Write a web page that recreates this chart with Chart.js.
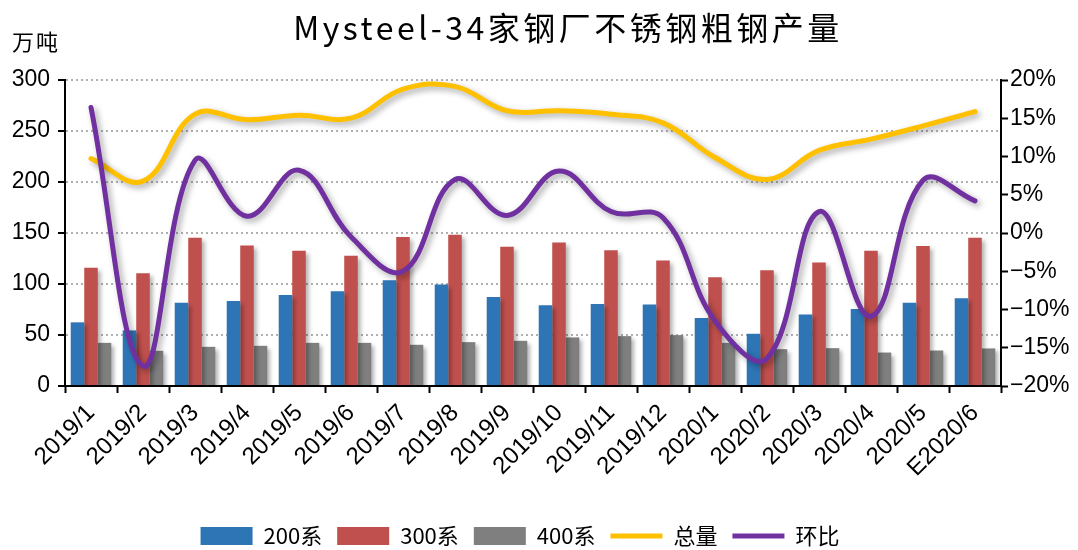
<!DOCTYPE html>
<html>
<head>
<meta charset="utf-8">
<script src="https://cdn.jsdelivr.net/npm/chart.js@4.4.0/dist/chart.umd.min.js"></script>
<style>
  html, body { margin: 0; padding: 0; background: #fff; }
  #wrap { width: 1078px; height: 550px; }
</style>
</head>
<body>
<div id="wrap"><canvas id="myChart" width="1078" height="550"></canvas></div>
<script>
const months = ['2019/1', '2019/2', '2019/3', '2019/4', '2019/5', '2019/6', '2019/7', '2019/8', '2019/9',
  '2019/10', '2019/11', '2019/12', '2020/1', '2020/2', '2020/3', '2020/4', '2020/5', 'E2020/6'];
const s200 = [62.4, 54.5, 81.7, 83.4, 89.3, 92.9, 103.7, 99.4, 87.3, 79.1, 80.4, 79.8, 66.6, 51.2, 70.2, 75.5, 81.7, 86.0];
const s300 = [116, 110.6, 145.4, 137.8, 132.6, 127.7, 146, 148.3, 136.5, 140.8, 133.2, 123, 106.7, 113.6, 121.1, 132.6, 137.2, 145.4];
const s400 = [42.3, 34.5, 38.4, 39.4, 42.3, 42.3, 40.4, 43, 44.3, 47.6, 48.9, 49.9, 42.3, 36.1, 37.1, 32.8, 34.8, 36.8];
const total = [223, 200.9, 266.5, 261, 265.5, 262.6, 291, 293.7, 269.8, 269.8, 266.5, 258, 224, 202.5, 231, 242, 255, 269];
const mom = [16.4, -17.4, 9.5, 2.2, 8.2, -0.5, -5.0, 7.0, 2.3, 8.1, 2.8, 2.0, -11.5, -16.4, 2.8, -10.9, 6.9, 4.2];

const titleText = 'Mysteel-34家钢厂不锈钢粗钢产量';
const unitText = '万吨';

// drop shadow under bars and lines
const shadow = {
  id: 'shadow',
  beforeDatasetDraw(chart, args) {
    const ctx = chart.ctx;
    ctx.save();
    const isLine = args.meta.type === 'line';
    ctx.shadowColor = isLine ? 'rgba(0,0,0,0.35)' : 'rgba(0,0,0,0.3)';
    ctx.shadowBlur = isLine ? 6 : 4;
    ctx.shadowOffsetX = 3;
    ctx.shadowOffsetY = 3;
  },
  afterDatasetDraw(chart) {
    chart.ctx.restore();
  }
};

// title and unit text, and nudge the legend a bit left
const headings = {
  id: 'headings',
  afterLayout(chart) {
    chart.legend.left -= 13;
    chart.legend.right -= 13;
  },
  afterDraw(chart) {
    const {ctx} = chart;
    ctx.save();
    ctx.fillStyle = '#000';
    ctx.textBaseline = 'middle';
    ctx.textAlign = 'center';
    ctx.font = '32px "Noto Sans CJK SC"';
    ctx.letterSpacing = '3.5px';
    ctx.fillText(titleText, 568, 28);
    ctx.letterSpacing = '2px';
    ctx.textAlign = 'left';
    ctx.font = '22px "Noto Sans CJK SC"';
    ctx.fillText(unitText, 12, 42);
    ctx.restore();
  }
};

const data = {
  labels: months,
  datasets: [
    { type: 'bar', label: '200系', data: s200, backgroundColor: '#2E75B6', order: 3, pointStyle: 'rect', yAxisID: 'y' },
    { type: 'bar', label: '300系', data: s300, backgroundColor: '#C0504D', order: 3, pointStyle: 'rect', yAxisID: 'y' },
    { type: 'bar', label: '400系', data: s400, backgroundColor: '#7F7F7F', order: 3, pointStyle: 'rect', yAxisID: 'y' },
    { type: 'line', label: '总量', data: total, borderColor: '#FFC000', backgroundColor: '#FFC000', borderWidth: 5,
      tension: 0.4, pointRadius: 0, order: 2, pointStyle: 'line', yAxisID: 'y', borderCapStyle: 'round' },
    { type: 'line', label: '环比', data: mom, borderColor: '#7030A0', backgroundColor: '#7030A0', borderWidth: 5,
      tension: 0.4, pointRadius: 0, order: 1, pointStyle: 'line', yAxisID: 'y1', borderCapStyle: 'round' }
  ]
};

const config = {
  type: 'bar',
  data,
  options: {
    responsive: false,
    animation: false,
    layout: { padding: { top: 80, bottom: -7, left: 0, right: 0 } },
    datasets: {
      bar: { categoryPercentage: 0.78, barPercentage: 1.0 }
    },
    plugins: {
      title: { display: false },
      tooltip: { enabled: false },
      legend: {
        position: 'bottom',
        fullSize: false,
        labels: {
          usePointStyle: true,
          pointStyleWidth: 52,
          boxHeight: 18,
          padding: 15,
          color: '#000',
          font: { family: '"Noto Sans CJK SC"', size: 22 },
          sort: (a, b) => a.datasetIndex - b.datasetIndex
        }
      }
    },
    scales: {
      x: {
        grid: { display: true, offset: true, drawOnChartArea: false, tickLength: 7, tickColor: '#000', tickWidth: 2 },
        border: { color: '#000', width: 2 },
        ticks: {
          color: '#000', minRotation: 45, maxRotation: 45, autoSkip: false, padding: 6,
          font: { family: '"Liberation Sans"', size: 24 }
        },
        afterFit(scale) { scale.height = 124; }
      },
      y: {
        position: 'left',
        min: 0, max: 300,
        ticks: { stepSize: 50, color: '#000', padding: 8, font: { family: '"Liberation Sans"', size: 23 } },
        grid: {
          color: ctx => ctx.tick && ctx.tick.value === 0 ? 'rgba(0,0,0,0)' : '#B0B0B0',
          lineWidth: 2, tickLength: 7, tickColor: '#000', tickWidth: 2
        },
        border: { color: '#000', width: 2, dash: [2, 3] },
        afterFit(scale) { scale.width = 65; }
      },
      y1: {
        position: 'right',
        min: -20, max: 20,
        ticks: {
          stepSize: 5, color: '#000', padding: 2, font: { family: '"Liberation Sans"', size: 23 },
          callback: v => (v < 0 ? '\u2212' + Math.abs(v) : v) + '%'
        },
        grid: { drawOnChartArea: false, tickLength: 7, tickColor: '#000', tickWidth: 2 },
        border: { color: '#000', width: 2 },
        afterFit(scale) { scale.width = 77; }
      }
    }
  },
  plugins: [shadow, headings]
};

const myChart = new Chart(document.getElementById('myChart'), config);
</script>
</body>
</html>
